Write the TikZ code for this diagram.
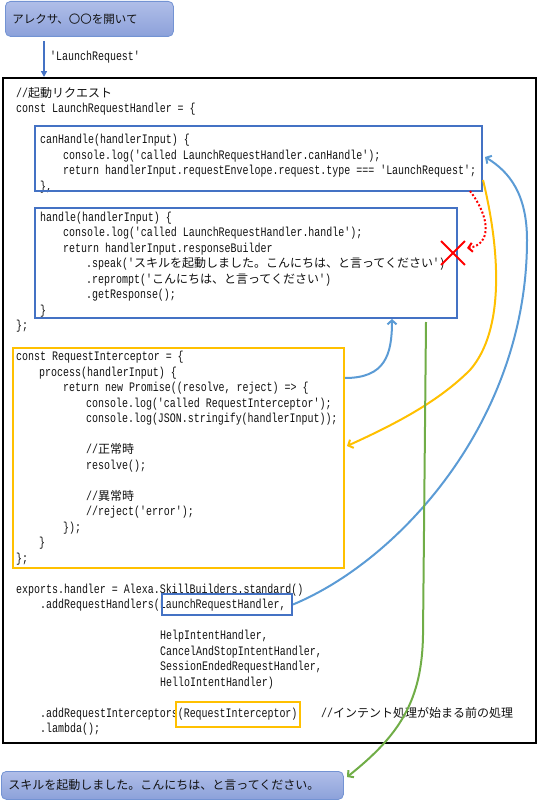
\documentclass[tikz,border=0pt]{standalone}
\usepackage{fontspec}
\setmainfont{Liberation Sans}
\newfontfamily\cdf[FakeStretch=0.767]{Liberation Mono}
\newfontfamily\jpf{Noto Sans CJK JP}
\newcommand\J[1]{{\jpf\fontsize{12}{14}\selectfont #1}}
\usetikzlibrary{arrows.meta,shapes.misc}
\definecolor{boxblue}{HTML}{4472C4}
\definecolor{linkblue}{HTML}{5B9BD5}
\definecolor{gold}{HTML}{FFC000}
\definecolor{leaf}{HTML}{70AD47}
\definecolor{pilltop}{HTML}{B0BEE8}
\definecolor{pillbot}{HTML}{8CA1DA}
\definecolor{pilledge}{HTML}{7393D3}
\definecolor{ink}{HTML}{111111}
\tikzset{
  code/.style={font=\cdf\fontsize{13}{15}\selectfont, anchor=base west, inner sep=0pt, text=ink},
  frame/.style={line width=2pt, inner sep=0pt, anchor=north west},
  pill/.style={draw=pilledge, line width=0.8pt, rounded corners=5pt, top color=pilltop, bottom color=pillbot,
    anchor=north west, inner xsep=7pt, inner ysep=0pt, align=left, text=ink,
    font=\jpf\fontsize{11.5}{13}\selectfont},
  link/.style={line width=2pt, -{Straight Barb[length=4pt,width=9pt]}},
}
\newcommand\cln[4]{\node[code] (#1) at (#2,{93+15.5*#3+4}) {#4};}
\begin{document}
\begin{tikzpicture}[x=1pt,y=-1pt]
\useasboundingbox (0,0) rectangle (539,800);
% request pill
\node[pill, minimum width=168pt, minimum height=35pt, text width=154pt] (ask) at (5,1) {アレクサ、〇〇を開いて};
% whole program frame
\node[frame, draw=black, minimum width=533pt, minimum height=665pt] (prog) at (2,77) {};
% code
\cln{c0}{16}{0}{//\J{起動リクエスト}}
\cln{c1}{16}{1}{const LaunchRequestHandler = \{}
\cln{c3}{40}{3}{canHandle(handlerInput) \{}
\cln{c4}{63}{4}{console.log('called LaunchRequestHandler.canHandle');}
\cln{c5}{63}{5}{return handlerInput.requestEnvelope.request.type === 'LaunchRequest';}
\cln{c6}{40}{6}{\},}
\cln{c8}{40}{8}{handle(handlerInput) \{}
\cln{c9}{63}{9}{console.log('called LaunchRequestHandler.handle');}
\cln{c10}{63}{10}{return handlerInput.responseBuilder}
\cln{c11}{86}{11}{.speak('\J{スキルを起動しました。こんにちは、と言ってください}')}
\cln{c12}{86}{12}{.reprompt('\J{こんにちは、と言ってください}')}
\cln{c13}{86}{13}{.getResponse();}
\cln{c14}{40}{14}{\}}
\cln{c15}{16}{15}{\};}
\cln{c17}{16}{17}{const RequestInterceptor = \{}
\cln{c18}{39}{18}{process(handlerInput) \{}
\cln{c19}{63}{19}{return new Promise((resolve, reject) => \{}
\cln{c20}{86}{20}{console.log('called RequestInterceptor');}
\cln{c21}{86}{21}{console.log(JSON.stringify(handlerInput));}
\cln{c23}{86}{23}{//\J{正常時}}
\cln{c24}{86}{24}{resolve();}
\cln{c26}{86}{26}{//\J{異常時}}
\cln{c27}{86}{27}{//reject('error');}
\cln{c28}{63}{28}{\});}
\cln{c29}{39}{29}{\}}
\cln{c30}{16}{30}{\};}
\cln{c32}{16}{32}{exports.handler = Alexa.SkillBuilders.standard()}
\cln{c33}{40}{33}{.addRequestHandlers(LaunchRequestHandler,}
\cln{c35}{160}{35}{HelpIntentHandler,}
\cln{c36}{160}{36}{CancelAndStopIntentHandler,}
\cln{c37}{160}{37}{SessionEndedRequestHandler,}
\cln{c38}{160}{38}{HelloIntentHandler)}
\cln{c40}{40}{40}{.addRequestInterceptors(RequestInterceptor)}
\cln{c40b}{321}{40}{//\J{インテント処理が始まる前の処理}}
\cln{c41}{40}{41}{.lambda();}
% highlight frames
\node[frame, draw=boxblue, minimum width=447pt, minimum height=65pt] (ch) at (34,125) {};
\node[frame, draw=boxblue, minimum width=422pt, minimum height=110pt] (hd) at (34,207) {};
\node[frame, draw=gold, minimum width=331pt, minimum height=220pt] (ri) at (12,347) {};
\node[frame, draw=boxblue, minimum width=130pt, minimum height=21pt] (lrh) at (161,593) {};
\node[frame, draw=gold, minimum width=124pt, minimum height=25pt] (rip) at (175,701) {};
% reply pill
\node[pill, minimum width=342pt, minimum height=28pt, text width=328pt, inner xsep=7pt, font=\jpf\fontsize{12}{14}\selectfont] (reply) at (1,771) {スキルを起動しました。こんにちは、と言ってください。};
% request label and arrow
\coordinate (ax) at (44,0);
\draw[boxblue, line width=1.6pt, -{Triangle[length=6pt,width=6pt]}] (ax |- ask.south) ++(0,4) -- (ax |- prog.north);
\node[code, anchor=west] (lbl) at (50,57) {'LaunchRequest'};
% connectors
\coordinate (redA) at (470,191);
\coordinate (redB) at (467,248);
\draw[red, line width=2pt, dash pattern=on 2pt off 2pt, -{Straight Barb[length=4pt,width=9pt]}]
  (redA) .. controls (492,220) and (490,245) .. (redB);
\node[draw=red, cross out, line width=1.8pt, minimum size=22pt, inner sep=0pt] (xm) at (453,253) {};
\coordinate (orgA) at (483,180);
\coordinate (orgB) at (347,446);
\draw[link, gold] (orgA) .. controls (500,250) and (505,330) .. (470,370)
  .. controls (440,400) and (400,422) .. (orgB);
\coordinate (chIn) at (485,157);
\draw[link, linkblue] (lrh.east) .. controls (400,560) and (527,420) .. (527,240)
  .. controls (527,195) and (510,172) .. (chIn);
\coordinate (hdIn) at (392,319);
\draw[link, linkblue] (ri.north east) ++(0,31) .. controls (385,378) and (392,355) .. (hdIn);
\coordinate (grA) at (426,322);
\coordinate (grB) at (347,777);
\draw[link, leaf] (grA) -- (423,635) .. controls (422,700) and (400,735) .. (grB);
\end{tikzpicture}
\end{document}
